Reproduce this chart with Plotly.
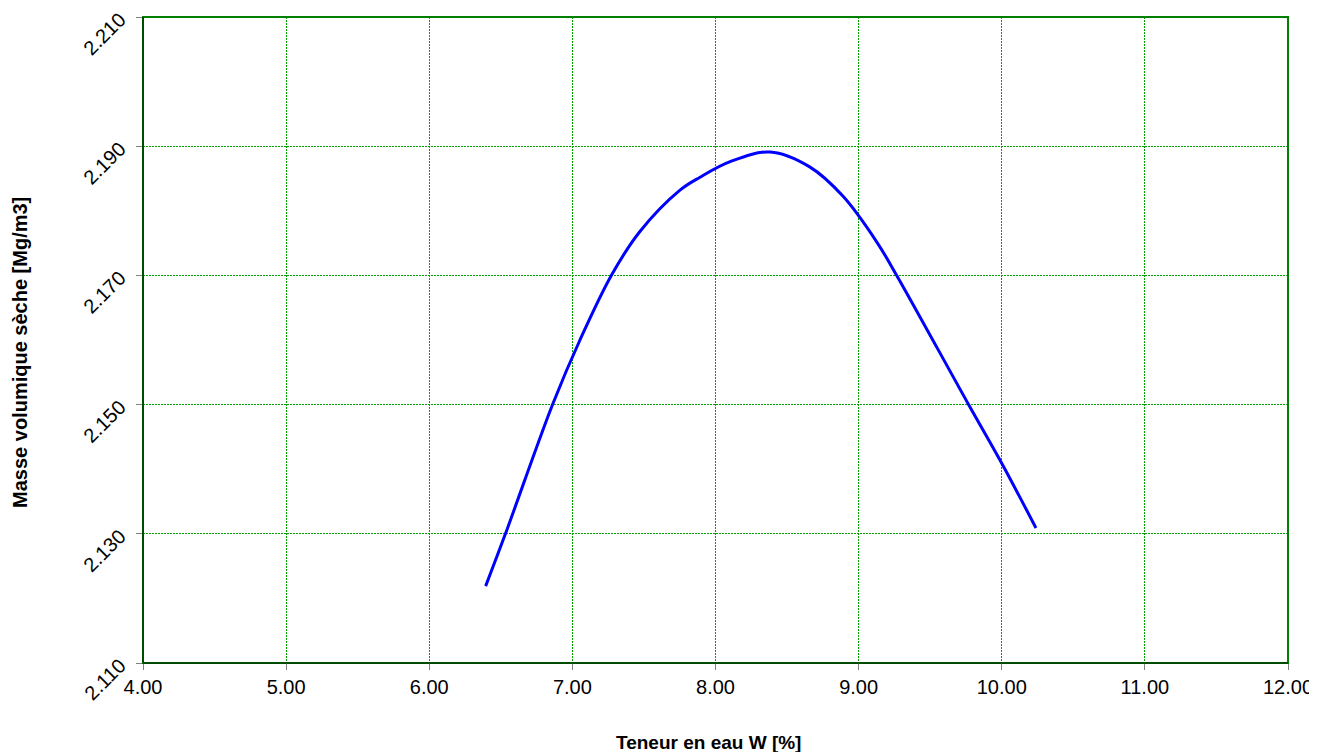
import plotly.graph_objects as go

# Compaction curve
water_content = [6.394, 6.529, 6.863, 7.053, 7.275, 7.472, 7.752, 7.892, 8.102, 8.381,
                 8.658, 8.893, 9.126, 9.266, 9.766, 9.998, 10.239]
dry_density = [2.1219, 2.1298, 2.1501, 2.1600, 2.1701, 2.1768, 2.1832, 2.1852, 2.1876, 2.1891,
               2.1868, 2.1822, 2.1752, 2.1700, 2.1501, 2.1410, 2.1309]

x_ticks = [4, 5, 6, 7, 8, 9, 10, 11, 12]
y_ticks = [2.110, 2.130, 2.150, 2.170, 2.190, 2.210]

fig = go.Figure()
fig.add_trace(go.Scatter(
    x=water_content, y=dry_density, mode="lines",
    line=dict(color="#0000ff", width=3, shape="spline", smoothing=1.0),
    showlegend=False, hoverinfo="skip"))

fig.add_shape(type="rect", xref="paper", yref="paper", x0=0, y0=0, x1=1, y1=1,
              line=dict(color="#008000", width=2), layer="above")
fig.add_shape(type="line", xref="paper", yref="paper", x0=0, y0=0, x1=1, y1=0,
              line=dict(color="#004d00", width=2), layer="above")
fig.add_shape(type="line", xref="paper", yref="paper", x0=0, y0=0, x1=0, y1=1,
              line=dict(color="#004d00", width=2), layer="above")

font = dict(family="Liberation Sans, Arial, sans-serif", size=20, color="black")

grid = dict(showgrid=True, gridcolor="#00a000", griddash="2px,1px", gridwidth=1)

# page body adds ~8px offset; figure sized to compensate
fig.update_layout(
    width=1309, height=744,
    margin=dict(l=135, r=29, t=9, b=89),
    paper_bgcolor="white", plot_bgcolor="white",
    font=font,
    xaxis=dict(
        range=[4, 12], tickvals=x_ticks, ticktext=[f"{v:.2f}" for v in x_ticks],
        showline=False,
        ticks="outside", ticklen=6, tickcolor="#808080", tickwidth=1,
        zeroline=False, automargin=False, **grid,
    ),
    yaxis=dict(
        range=[2.110, 2.210], tickvals=y_ticks, ticktext=[f"{v:.3f}" for v in y_ticks],
        tickangle=-45, ticklabelstandoff=12,
        showline=False,
        ticks="outside", ticklen=6, tickcolor="#808080", tickwidth=1,
        zeroline=False, automargin=False, **grid,
    ),
    annotations=[
        dict(text="<b>Teneur en eau W [%]</b>", xref="paper", yref="paper",
             x=0.494, y=-0.1223, xanchor="center", yanchor="middle",
             showarrow=False, font=dict(size=19)),
        dict(text="<b>Masse volumique sèche [Mg/m3]</b>", xref="paper", yref="paper",
             x=-0.1074, y=0.48, xanchor="center", yanchor="middle", textangle=-90,
             showarrow=False, font=dict(size=20)),
    ],
)

fig.write_html("out.html")
